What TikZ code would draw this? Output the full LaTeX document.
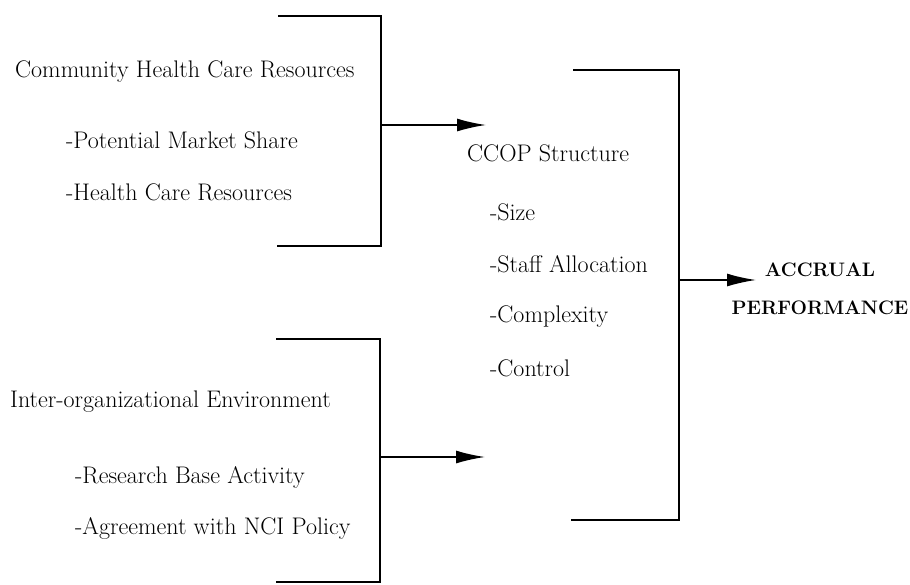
\documentclass[tikz,border=0pt]{standalone}
\usetikzlibrary{arrows.meta}
\begin{document}
\begin{tikzpicture}[x=1pt,y=-1pt,
    lbl/.style={anchor=west, inner sep=0pt, font=\fontsize{24}{28}\selectfont},
    outcome/.style={align=center, inner sep=0pt, font=\fontsize{19.5}{38}\selectfont\bfseries},
    brk/.style={line width=1.7pt},
    arr/.style={line width=1.7pt, -{Latex[length=29pt,width=13pt]}}]
        \def\lx{381}
        \def\mx{679}

        \useasboundingbox (0,0) rectangle (910,584);

        % community resources
        \node [lbl] (comm) at (15,72) {Community Health Care Resources};
        \node [lbl] (share) at (66,140) {-Potential Market Share};
        \node [lbl] (hcres) at (66,192) {-Health Care Resources};
        \draw [brk] (278,16) -- (\lx,16) -- (\lx,246) -- (277,246);
        \coordinate (commout) at (\lx,125);
        \coordinate (commin) at (486,125);
        \draw [arr] (commout) -- (commin);

        % inter-organizational environment
        \node [lbl] (inter) at (10,402) {Inter-organizational Environment};
        \node [lbl] (resb) at (75,477) {-Research Base Activity};
        \node [lbl] (nci) at (75,528) {-Agreement with NCI Policy};
        \draw [brk] (276,339) -- (\lx-1,339) -- (\lx-1,582) -- (276,582);
        \coordinate (interout) at (\lx-1,457);
        \coordinate (interin) at (485,457);
        \draw [arr] (interout) -- (interin);

        % ccop structure
        \node [lbl] (ccop) at (467,153) {CCOP Structure};
        \node [lbl] (size) at (490,212) {-Size};
        \node [lbl] (staff) at (490,264) {-Staff Allocation};
        \node [lbl] (cplx) at (490,317) {-Complexity};
        \node [lbl] (ctrl) at (490,368) {-Control};
        \draw [brk] (573,70) -- (\mx,70) -- (\mx,520) -- (571,520);
        \coordinate (ccopout) at (\mx,280);
        \coordinate (accrin) at (756,280);

        \node [outcome] (accr) at (820,289) {ACCRUAL\\PERFORMANCE};
        \draw [arr] (ccopout) -- (accrin);
      \end{tikzpicture}
\end{document}
